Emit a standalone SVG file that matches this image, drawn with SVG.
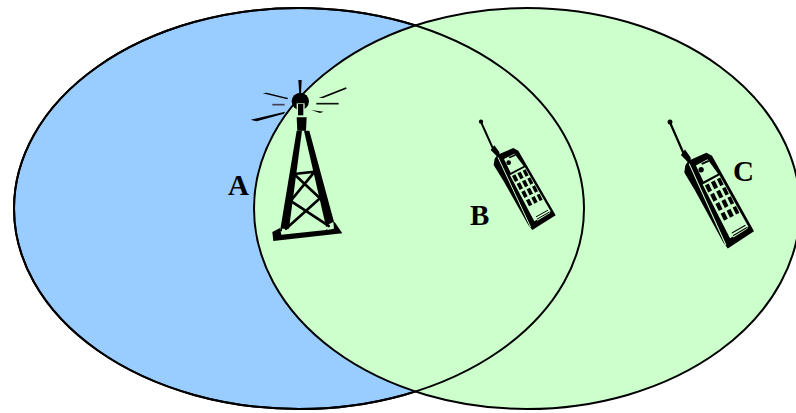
<svg xmlns="http://www.w3.org/2000/svg" width="796" height="413" viewBox="0 0 796 413">
<style>
.cell{stroke:#000;stroke-width:2}
.lbl{font:bold 29px "Liberation Serif","Times New Roman",serif;fill:#000}
.k{fill:#000}
.g{fill:#ccffcc}
.ln{stroke:#000;fill:none;stroke-linecap:round}
.gl{stroke:#ccffcc;fill:none}
</style>
<defs>
<g id="phone">
<path class="ln" stroke-width="6" d="M63 36L100 118"/>
<circle cx="63" cy="35" r="6.500" class="k"/>
<path class="k" d="M92 120L103 106L118 126L118 132L160 114L175 122L287 316L217 360L205 345L130 212L101 165L104 146L110 138Z"/>
<path class="gl" stroke-width="3" d="M114 142L212 352"/>
<path class="k" d="M118 142L160 124L280 315L222 350Z"/>
<path class="g" d="M132 147L163 131L191 168L152 188Z"/>
<circle cx="146" cy="158" r="7" class="k"/>
<path class="k" d="M146 141L165 133L167 137L149 145Z"/>
<path class="g" d="M150 196L195 172L272 304L223 334Z"/>
<g class="k">
<path d="M156 198l10-5 9 18-10 5z"/><path d="M172 190l10-5 9 18-10 5z"/><path d="M188 182l9-4 9 18-9 4z"/>
<path d="M170 222l10-5 9 18-10 5z"/><path d="M186 214l10-5 9 18-10 5z"/><path d="M202 206l9-4 9 18-9 4z"/>
<path d="M184 246l10-5 9 18-10 5z"/><path d="M200 238l10-5 9 18-10 5z"/><path d="M216 230l9-4 9 18-9 4z"/>
<path d="M198 271l10-5 9 18-10 5z"/><path d="M214 263l10-5 9 18-10 5z"/><path d="M230 255l9-4 9 18-9 4z"/>
</g>
<path class="g" d="M224 316L262 296L270 309L232 332Z"/>
<path class="ln" stroke-width="3" d="M229 320L263 301M232 327L267 307"/>
</g>
</defs>
<rect width="796" height="413" fill="#fff"/>
<g id="cell-a"><ellipse class="cell" cx="299" cy="208.500" rx="285" ry="200.500" fill="#99ccff"/></g>
<g id="cell-c"><ellipse class="cell" cx="527" cy="208.500" rx="273" ry="200.500" fill="#ccffcc"/></g>
<ellipse cx="299" cy="208.500" rx="285" ry="200.500" fill="none" stroke="#000" stroke-width="2"/>
<g id="tower" transform="translate(220 70) scale(.3333)">
<circle cx="241" cy="94" r="26" class="k"/>
<path class="k" d="M235 30L245 30L243 72L238 72Z"/>
<path class="k" d="M128 70L140 68L204 84L202 88Z"/>
<path d="M157 104H194" stroke="#445" stroke-width="5"/>
<path class="k" d="M92 149L195 125L192 131L110 154Z"/>
<path class="k" d="M296 84L378 52L380 56L310 84Z"/>
<path d="M289 101H356" stroke="#111" stroke-width="5"/>
<path class="k" d="M273 120L311 125L300 129Z"/>
<path class="g" d="M230 100H254V138H230Z"/>
<path class="k" d="M234 102H250V136H234Z"/>
<path class="k" d="M230 142H260L258 182H232Z"/>
<path class="k" d="M230 182H246L206 484H180Z"/>
<path class="k" d="M252 182H268L346 470H318Z"/>
<path class="k" d="M157 486L180 474L184 494L318 480L344 456L367 490L160 513Z"/>
<path class="g" d="M186 476H208L205 490L186 493Z"/>
<path class="g" d="M320 466L340 456L342 476L322 480Z"/>
<path class="ln" stroke-width="8" d="M222 312L284 305L212 393L326 468M222 312L300 385L198 476"/>
</g>
<g id="phone-b"><use href="#phone" transform="translate(460 110) scale(.3333)"/></g>
<g id="phone-c"><use href="#phone" transform="translate(646.400 108.400) scale(.375 .3889)"/></g>
<g id="label-a"><text class="lbl" x="228" y="195">A</text></g>
<g id="label-b"><text class="lbl" x="470" y="225">B</text></g>
<g id="label-c"><text class="lbl" x="733" y="181">C</text></g>
</svg>
